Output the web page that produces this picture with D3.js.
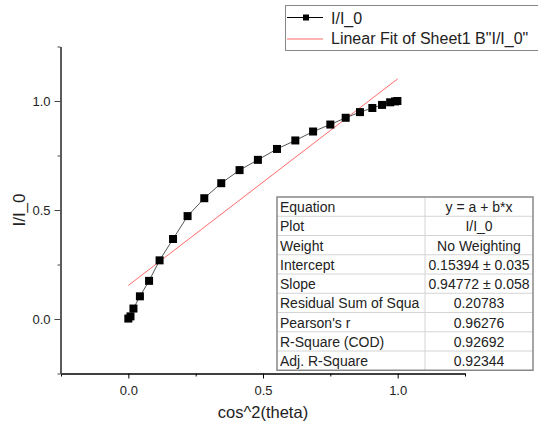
<!DOCTYPE html>
<html lang="en">
<head>
    <meta charset="UTF-8">
    <script src="https://cdn.jsdelivr.net/npm/d3@7"></script>
    <title>I/I_0 vs cos^2(theta)</title>
    <style>
        body { margin: 0; background: #fff; }
        text { font-family: Arial, "Liberation Sans", sans-serif; fill: #222; }
    </style>
</head>
<body>
</body>
<script>
    // measured points
    const xValues = [0.000, 0.008, 0.019, 0.043, 0.077, 0.116, 0.166, 0.220, 0.282, 0.345, 0.413, 0.481,
                     0.552, 0.620, 0.686, 0.750, 0.807, 0.860, 0.906, 0.942, 0.972, 0.990, 0.999]
    const yValues = [0.002, 0.012, 0.048, 0.104, 0.175, 0.269, 0.367, 0.472, 0.554, 0.623, 0.683, 0.730,
                     0.780, 0.819, 0.860, 0.892, 0.923, 0.949, 0.968, 0.982, 0.994, 0.998, 1.000]

    // linear fit
    const fitIntercept = 0.15394
    const fitSlope = 0.94772
    const fitRange = [0, 1]

    // fit result table
    const tableLabels = ["Equation", "Plot", "Weight", "Intercept", "Slope", "Residual Sum of Squa",
                         "Pearson's r", "R-Square (COD)", "Adj. R-Square"]
    const tableValues = ["y = a + b*x", "I/I_0", "No Weighting", "0.15394 \u00b1 0.035", "0.94772 \u00b1 0.058",
                         "0.20783", "0.96276", "0.92692", "0.92344"]

    const majorTicks = [0, 0.5, 1.0]
    const minorTicks = [-0.25, 0.25, 0.75, 1.25]
    const legendLabels = ["I/I_0", "Linear Fit of Sheet1 B\"I/I_0\""]

    const width = 538
    const height = 425
    const svg = d3.select("body").append("svg").attr("width", width).attr("height", height)

    const xScale = d3.scaleLinear().domain([-0.25, 1.25]).range([61, 465])
    const yScale = d3.scaleLinear().domain([-0.25, 1.25]).range([373.5, 46.5])

    // 轴
    const xMajor = d3.axisBottom(xScale).tickValues(majorTicks).tickSize(5).tickSizeOuter(0).tickFormat(d3.format(".1f"))
    const xMinor = d3.axisBottom(xScale).tickValues(minorTicks).tickSize(3).tickSizeOuter(0).tickFormat("")
    const yMajor = d3.axisLeft(yScale).tickValues(majorTicks).tickSize(6).tickSizeOuter(0).tickFormat(d3.format(".1f"))
    const yMinor = d3.axisLeft(yScale).tickValues(minorTicks).tickSize(3).tickSizeOuter(0).tickFormat("")

    const gx = svg.append("g").attr("transform", `translate(0,${yScale(-0.25)})`)
    gx.call(xMajor)
    gx.append("g").call(xMinor)
    gx.selectAll("path.domain").attr("stroke", "#000")
    gx.selectAll("line").attr("stroke", "#000")
    gx.selectAll("text").attr("font-size", 13).attr("dy", "1.05em").attr("fill", "#222")
        .style("font-family", "Arial, 'Liberation Sans', sans-serif")

    const gy = svg.append("g").attr("transform", `translate(${xScale(-0.25) - 0.5},0)`)
    gy.call(yMajor)
    gy.append("g").call(yMinor)
    gy.selectAll("path.domain").attr("stroke", "#555").attr("stroke-width", 1.6)
    gy.selectAll("line").attr("stroke", "#444")
    gy.selectAll("text").attr("font-size", 13).attr("x", -10).attr("fill", "#222")
        .style("font-family", "Arial, 'Liberation Sans', sans-serif")

    // 轴标题
    svg.append("text").attr("x", xScale(0.5)).attr("y", 418).attr("text-anchor", "middle")
        .attr("font-size", 16.5).text("cos^2(theta)")
    svg.append("text").attr("transform", `translate(25,${yScale(0.5)}) rotate(-90)`)
        .attr("text-anchor", "middle").attr("font-size", 17).text("I/I_0")

    // 拟合线
    svg.append("line")
        .attr("x1", xScale(fitRange[0])).attr("y1", yScale(fitIntercept + fitSlope * fitRange[0]))
        .attr("x2", xScale(fitRange[1])).attr("y2", yScale(fitIntercept + fitSlope * fitRange[1]))
        .attr("stroke", "#ff6a6a").attr("stroke-width", 1)

    // 数据折线 + 方块
    const points = xValues.map((x, i) => ({x: x, y: yValues[i]}))
    const line = d3.line().x(d => xScale(d.x)).y(d => yScale(d.y))
    svg.append("path").datum(points).attr("d", line)
        .attr("fill", "none").attr("stroke", "#555").attr("stroke-width", 1)
    svg.selectAll(".pt").data(points).enter().append("rect").attr("class", "pt")
        .attr("x", d => xScale(d.x) - 4).attr("y", d => yScale(d.y) - 4)
        .attr("width", 8).attr("height", 8).attr("fill", "#000")

    // 图例
    const legend = svg.append("g")
    legend.append("rect").attr("x", 285.5).attr("y", 5.5).attr("width", 260).attr("height", 45)
        .attr("fill", "#fff").attr("stroke", "#888").attr("stroke-width", 1)
    legend.append("line").attr("x1", 287).attr("x2", 323).attr("y1", 17.5).attr("y2", 17.5)
        .attr("stroke", "#000")
    legend.append("rect").attr("x", 303).attr("y", 14.5).attr("width", 6).attr("height", 6).attr("fill", "#000")
    legend.append("line").attr("x1", 287).attr("x2", 323).attr("y1", 39).attr("y2", 39)
        .attr("stroke", "#ff6a6a")
    legend.selectAll(".lg").data(legendLabels).enter().append("text").attr("class", "lg")
        .attr("x", 331).attr("y", (d, i) => 24 + i * 19.5).attr("font-size", 16).text(d => d)

    // 结果表格
    const tx = 277, ty = 197, rowH = 19.25, col1 = 148, col2 = 108
    const table = svg.append("g")
    table.append("rect").attr("x", tx).attr("y", ty).attr("width", col1 + col2).attr("height", rowH * tableLabels.length)
        .attr("fill", "#fff")
    table.selectAll(".row-line").data(d3.range(1, tableLabels.length)).enter().append("line").attr("class", "row-line")
        .attr("x1", tx).attr("x2", tx + col1 + col2)
        .attr("y1", d => ty + d * rowH).attr("y2", d => ty + d * rowH)
        .attr("stroke", "#d4d4d4")
    table.append("line").attr("x1", tx + col1).attr("x2", tx + col1)
        .attr("y1", ty).attr("y2", ty + rowH * tableLabels.length).attr("stroke", "#d4d4d4")
    table.append("rect").attr("x", tx).attr("y", ty).attr("width", col1 + col2).attr("height", rowH * tableLabels.length)
        .attr("fill", "none").attr("stroke", "#888").attr("stroke-width", 1.5)
    table.selectAll(".lab").data(tableLabels).enter().append("text").attr("class", "lab")
        .attr("x", tx + 3).attr("y", (d, i) => ty + i * rowH + 15).attr("font-size", 14).text(d => d)
    table.selectAll(".val").data(tableValues).enter().append("text").attr("class", "val")
        .attr("x", tx + col1 + col2 / 2).attr("y", (d, i) => ty + i * rowH + 15).attr("text-anchor", "middle")
        .attr("font-size", 14).text(d => d)
</script>
</html>
